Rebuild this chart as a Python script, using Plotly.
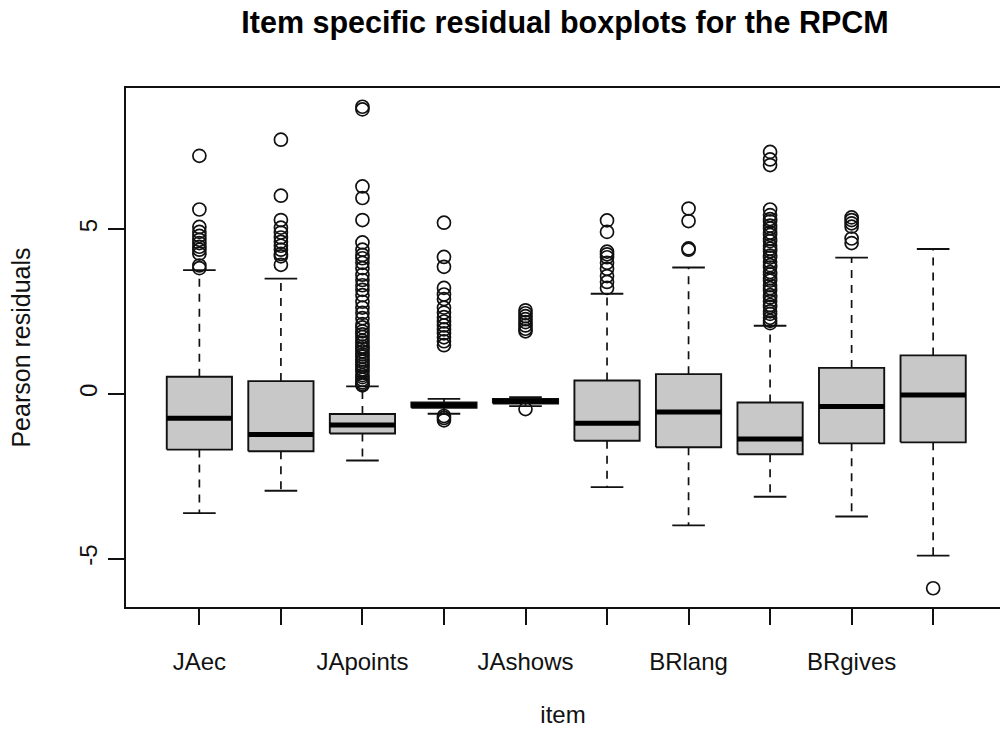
import plotly.graph_objects as go

# Item labels along the x axis (every second label is left blank)
ITEMS = ["JAec", "", "JApoints", "", "JAshows", "", "BRlang", "", "BRgives", ""]

# Five-number summaries of the Pearson residuals per item
LOWER_WHISKER = [-3.62, -2.94, -2.02, -0.60, -0.37, -2.83, -3.99, -3.12, -3.72, -4.91]
Q1 = [-1.69, -1.74, -1.20, -0.42, -0.29, -1.42, -1.62, -1.83, -1.50, -1.47]
MEDIAN = [-0.74, -1.23, -0.94, -0.34, -0.22, -0.89, -0.55, -1.37, -0.38, -0.03]
Q3 = [0.52, 0.39, -0.61, -0.26, -0.15, 0.41, 0.60, -0.26, 0.79, 1.17]
UPPER_WHISKER = [3.76, 3.50, 0.23, -0.15, -0.10, 3.04, 3.84, 2.07, 4.14, 4.40]

# Outlying residuals per item
OUT_1 = [7.23, 5.60, 5.07, 4.92, 4.80, 4.68, 4.58, 4.47, 4.38, 4.26, 3.90, 3.82]
OUT_2 = [7.72, 6.02, 5.28, 5.05, 4.90, 4.75, 4.62, 4.50, 4.38, 4.25, 4.18, 3.92]
OUT_3 = [8.72, 8.64, 6.30, 5.95, 5.28, 4.60, 4.38, 4.22, 4.12, 3.98, 3.82, 3.62,
         3.46, 3.30, 3.16, 3.00, 2.80, 2.62, 2.46, 2.30, 2.12, 2.02, 1.90, 1.81,
         1.73, 1.62, 1.55, 1.44, 1.38, 1.29, 1.20, 1.13, 1.04, 0.98, 0.89, 0.83,
         0.74, 0.67, 0.57, 0.51, 0.43, 0.35, 0.30, 0.26]
OUT_4 = [5.20, 4.16, 3.86, 3.22, 3.02, 2.88, 2.62, 2.47, 2.33, 2.20, 2.08, 1.96,
         1.84, 1.72, 1.60, 1.48, -0.67, -0.73, -0.80]
OUT_5 = [2.54, 2.45, 2.36, 2.27, 2.18, 2.08, 1.98, 1.90, -0.46]
OUT_6 = [5.27, 4.92, 4.32, 4.24, 4.15, 3.98, 3.80, 3.58, 3.40, 3.22]
OUT_7 = [5.63, 5.25, 4.42, 4.38]
OUT_8 = [7.35, 7.12, 6.95, 5.60, 5.43, 5.31, 5.24, 5.11, 5.03, 4.90, 4.83, 4.71,
         4.64, 4.50, 4.41, 4.33, 4.20, 4.14, 4.01, 3.91, 3.84, 3.70, 3.63, 3.51,
         3.44, 3.30, 3.21, 3.13, 3.00, 2.93, 2.81, 2.70, 2.64, 2.51, 2.43, 2.31,
         2.22, 2.15]
OUT_9 = [5.36, 5.28, 5.18, 5.08, 4.72, 4.58]
OUT_10 = [-5.90]
OUTLIERS = [OUT_1, OUT_2, OUT_3, OUT_4, OUT_5, OUT_6, OUT_7, OUT_8, OUT_9, OUT_10]

BOX_HALF = 0.4      # half box width in x units
STAPLE_HALF = 0.2   # half whisker-cap width
FILL = "#c8c8c8"
INK = "#111111"
FONT = "Liberation Sans"

positions = list(range(1, len(ITEMS) + 1))

wx, wy, bx, by, mx, my, sx, sy, ox, oy = ([] for _ in range(10))
for i, p in enumerate(positions):
    # dashed whiskers
    wx += [p, p, None, p, p, None]
    wy += [Q3[i], UPPER_WHISKER[i], None, Q1[i], LOWER_WHISKER[i], None]
    # staples
    sx += [p - STAPLE_HALF, p + STAPLE_HALF, None, p - STAPLE_HALF, p + STAPLE_HALF, None]
    sy += [UPPER_WHISKER[i], UPPER_WHISKER[i], None, LOWER_WHISKER[i], LOWER_WHISKER[i], None]
    # box outline
    bx += [p - BOX_HALF, p + BOX_HALF, p + BOX_HALF, p - BOX_HALF, p - BOX_HALF, None]
    by += [Q1[i], Q1[i], Q3[i], Q3[i], Q1[i], None]
    # median bar
    mx += [p - BOX_HALF, p + BOX_HALF, None]
    my += [MEDIAN[i], MEDIAN[i], None]
    # outliers
    ox += [p] * len(OUTLIERS[i])
    oy += OUTLIERS[i]

fig = go.Figure()
fig.add_trace(go.Scatter(x=wx, y=wy, mode="lines", hoverinfo="skip",
                         line=dict(color=INK, width=1.7, dash="8px,7px")))
fig.add_trace(go.Scatter(x=sx, y=sy, mode="lines", hoverinfo="skip",
                         line=dict(color=INK, width=1.9)))
fig.add_trace(go.Scatter(x=bx, y=by, mode="lines", fill="toself", fillcolor=FILL,
                         hoverinfo="skip", line=dict(color=INK, width=1.9)))
fig.add_trace(go.Scatter(x=mx, y=my, mode="lines", hoverinfo="skip",
                         line=dict(color="#000000", width=5)))
fig.add_trace(go.Scatter(x=ox, y=oy, mode="markers",
                         marker=dict(symbol="circle-open", size=13, color=INK,
                                     line=dict(width=1.7))))

axis_common = dict(showgrid=False, zeroline=False, showline=True, linecolor=INK,
                   linewidth=1.9, ticks="outside", ticklen=16, tickwidth=1.7,
                   tickcolor=INK, tickfont=dict(family=FONT, size=24, color="#111"))

fig.update_layout(
    width=1000, height=745,
    margin=dict(l=126, r=0, t=88, b=138),
    paper_bgcolor="white", plot_bgcolor="white",
    showlegend=False,
    font=dict(family=FONT, color="#111"),
    title=dict(text="Item specific residual boxplots for the RPCM",
               x=0.565, xref="container", xanchor="center",
               y=1 - 22 / 745, yref="container", yanchor="middle",
               font=dict(family=FONT, size=30.5, weight="bold", color="#000")),
    xaxis=dict(range=[0.1, 10.82], tickvals=positions, ticktext=ITEMS, mirror=True,
               ticklabelstandoff=16,
               title=dict(text="item", standoff=32,
                          font=dict(family=FONT, size=24, color="#111")),
               **axis_common),
    yaxis=dict(range=[-6.47, 9.29], tickvals=[-5, 0, 5], ticktext=["-5", "0", "5"],
               tickangle=-90, ticklabelstandoff=1,
               title=dict(text="Pearson residuals", standoff=38,
                          font=dict(family=FONT, size=25, color="#111")),
               **axis_common),
)

fig.write_html("out.html")
